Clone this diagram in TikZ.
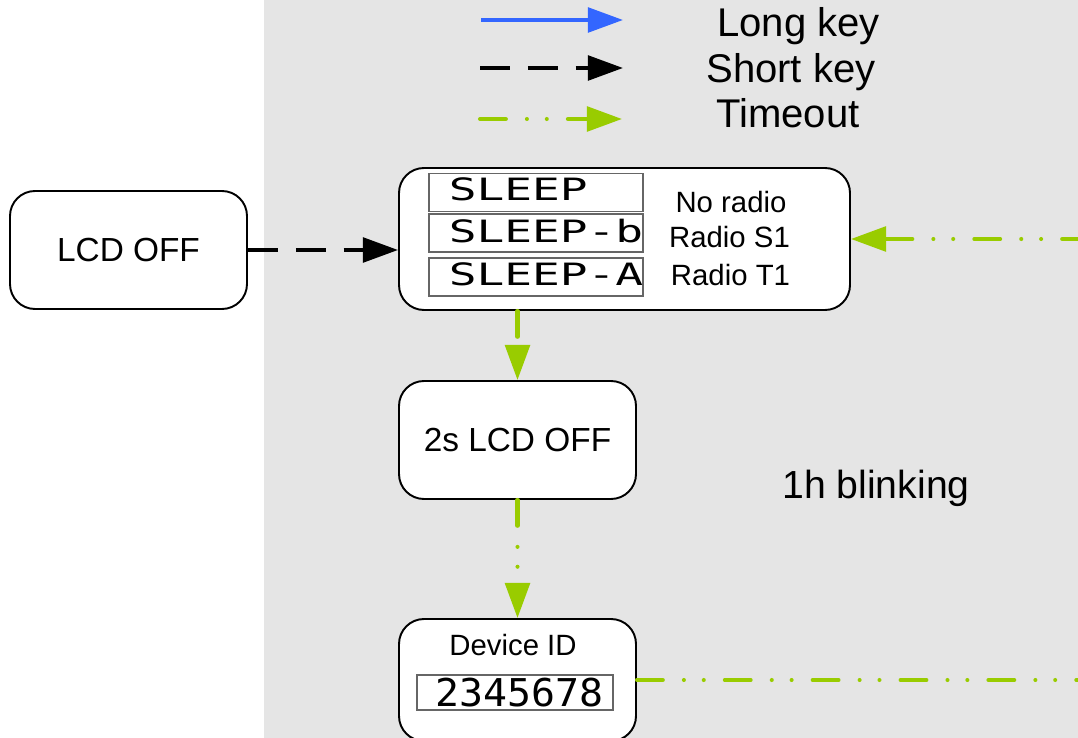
\documentclass[tikz,border=0pt]{standalone}
\usepackage{fontspec}
\setmainfont{Liberation Sans}
\newfontfamily\lcdfont[FakeStretch=1.5]{DejaVu Sans Mono}
\newfontfamily\lcdnum[FakeStretch=1.04]{DejaVu Sans Mono}
\usetikzlibrary{arrows.meta}

\definecolor{timeoutgreen}{HTML}{99CC00}
\definecolor{longblue}{HTML}{3366FF}
\definecolor{panelgrey}{HTML}{E5E5E5}

\begin{document}
\begin{tikzpicture}[
  >={Triangle[length=20pt,width=14pt]},
  state/.style={draw, line width=1.1pt, fill=white, rounded corners=0.5cm,
                minimum width=4.74cm, minimum height=2.36cm},
  lcdbox/.style={draw=black!60, line width=0.6pt, fill=white, inner sep=0pt,
                 minimum width=4.28cm, minimum height=0.76cm},
  lcdtext/.style={right, inner sep=0pt, font=\lcdfont\fontsize{17.5}{19}\selectfont},
  lbl/.style={font=\fontsize{16.7}{20}\selectfont},
  legend/.style={anchor=base west, inner sep=0pt, font=\fontsize{22.8}{26}\selectfont},
  longkey/.style={->, line width=2.2pt, longblue},
  shortkey/.style={->, line width=2.2pt, dash pattern=on 17pt off 10.2pt},
  timeout/.style={->, line width=2.3pt, line cap=round, timeoutgreen,
                  dash pattern=on 14.7pt off 12pt on 0pt off 11.3pt on 0pt off 12pt},
]

% ============================
% Page and grey panel
% ============================
\useasboundingbox (0,0) rectangle (21.56,-14.76);
\fill[panelgrey] (5.28,0) rectangle (21.56,-14.76);
\coordinate (rightedge) at (21.56,0);

% ============================
% Legend
% ============================
\coordinate (longA)  at (9.62,-0.4);
\coordinate (longB)  at (12.46,-0.4);
\coordinate (shortA) at (9.60,-1.36);
\coordinate (shortB) at (12.46,-1.36);
\coordinate (toA)    at (9.60,-2.38);
\coordinate (toB)    at (12.44,-2.38);

\draw[longkey]  (longA) -- (longB);
\draw[shortkey] (shortA) -- (shortB);
\draw[timeout]  (toA) -- (toB);

\node[legend] (longlbl)  at (14.34,-0.74) {Long key};
\node[legend] (shortlbl) at (14.12,-1.66) {Short key};
\node[legend] (tolbl)    at (14.32,-2.56) {Timeout};

% ============================
% States
% ============================
\node[state, font=\fontsize{19}{23}\selectfont] (lcdoff) at (2.57,-5.0) {LCD OFF};

\node[state, minimum width=9.02cm, minimum height=2.84cm] (sleep) at (12.49,-4.78) {};

% LCD rows inside the sleep state
\node[lcdbox] (rowa) at (10.72,-3.85) {};
\node[lcdbox] (rowb) at (10.72,-4.66) {};
\node[lcdbox] (rowc) at (10.72,-5.54) {};

\node[lcdtext] at ([xshift=0.4cm,yshift=0.06cm]rowa.west) {SLEEP};
\node[lcdtext] at ([xshift=0.4cm,yshift=0.04cm]rowb.west) {SLEEP-b};
\node[lcdtext] at ([xshift=0.4cm,yshift=0.06cm]rowc.west) {SLEEP-A};

\node[lbl] (lblnone) at (14.62,-4.04) {No radio};
\node[lbl] (lbls)    at (14.59,-4.74) {Radio S1};
\node[lbl] (lblt)    at (14.61,-5.50) {Radio T1};

\node[state, font=\fontsize{19}{23}\selectfont] (wait) at (10.35,-8.8) {2s LCD OFF};

\node[state, minimum height=2.44cm] (devid) at (10.35,-13.6) {};
\node[lbl] (devlbl) at (10.26,-12.9) {Device ID};
\node[lcdbox, minimum width=3.92cm, minimum height=0.70cm] (idrow) at (10.3,-13.85) {};
\node[right, inner sep=0pt, font=\lcdnum\fontsize{21.8}{24}\selectfont]
  at ([xshift=0.38cm]idrow.west) {2345678};

\node[font=\fontsize{22.3}{26}\selectfont] (blink) at (17.52,-9.76) {1h blinking};

% ============================
% Transitions
% ============================
\draw[shortkey] (lcdoff.east) -- (lcdoff.east -| sleep.west);

\draw[timeout] (sleep.south -| wait.north) -- (wait.north);
\draw[timeout] (wait.south) -- (devid.north);

\coordinate (idout)   at (devid.east -| rightedge);
\coordinate (sleepin) at (sleep.east -| rightedge);

\draw[timeout, -] (devid.east) -- (idout);
\draw[timeout, dash phase=5.7pt] (sleepin) -- (sleep.east);

\end{tikzpicture}
\end{document}
